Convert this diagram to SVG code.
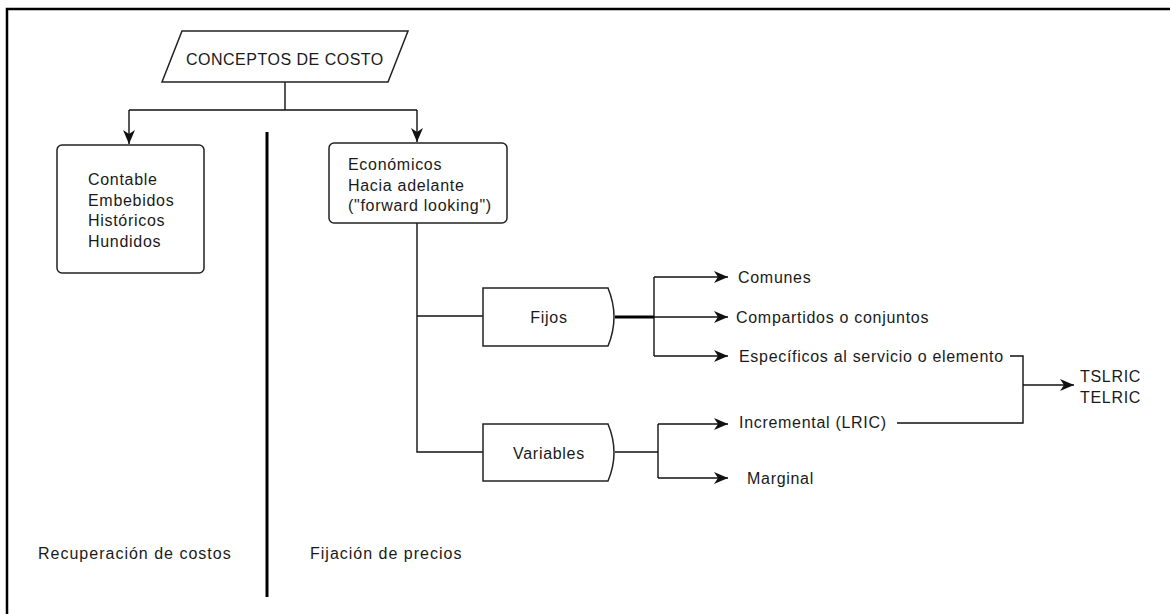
<svg xmlns="http://www.w3.org/2000/svg" width="1170" height="614" viewBox="0 0 1170 614">
<style>
text{font-family:"Liberation Sans",Arial,sans-serif;font-size:16px;fill:#1a1a1a;letter-spacing:0.7px}
.box{fill:#fff;stroke:#222;stroke-width:1.5}
.ln{fill:none;stroke:#111;stroke-width:1.4}
.ar{fill:none;stroke:#111;stroke-width:1.4;marker-end:url(#ah)}
</style>
<defs>
<marker id="ah" markerUnits="userSpaceOnUse" markerWidth="16" markerHeight="14" refX="14" refY="6" orient="auto">
<path d="M0,0 L14,6 L0,12 L4,6 z" fill="#111"/>
</marker>
</defs>
<rect x="0" y="0" width="1170" height="614" fill="#fff"/>
<path d="M7,614 V9 H1170" fill="none" stroke="#000" stroke-width="2.5"/>
<line x1="267" y1="132" x2="267" y2="597" stroke="#000" stroke-width="3"/>
<g id="connectors">
<path class="ln" d="M285,82 V110 M129,110 H417"/>
<path class="ar" d="M129,110 V144"/>
<path class="ar" d="M417,110 V142"/>
<path class="ln" d="M417,223 V452 H483 M417,316 H483"/>
<path d="M615,317 H654" fill="none" stroke="#000" stroke-width="3"/>
<path class="ln" d="M654,277 V356"/>
<path class="ar" d="M654,277 H728"/>
<path class="ar" d="M654,317 H728"/>
<path class="ar" d="M654,356 H728"/>
<path class="ln" d="M615,452 H658 M658,424 V478"/>
<path class="ar" d="M658,424 H728"/>
<path class="ar" d="M658,478 H728"/>
<path class="ln" d="M1010,356 H1023 V423 H897"/>
<path class="ar" d="M1023,385 H1074"/>
</g>
<g id="n-conceptos">
<polygon class="box" points="182,31 408,31 388,82 162,82"/>
<text x="186" y="65" style="letter-spacing:0.5px">CONCEPTOS DE COSTO</text>
</g>
<g id="n-contable">
<rect class="box" x="57" y="145" width="147" height="128" rx="5"/>
<text x="88" y="185">Contable</text>
<text x="88" y="205.5">Embebidos</text>
<text x="88" y="226">Históricos</text>
<text x="88" y="246.5">Hundidos</text>
</g>
<g id="n-economicos">
<rect class="box" x="329" y="143" width="178" height="80" rx="5"/>
<text x="348" y="170">Económicos</text>
<text x="348" y="190.5">Hacia adelante</text>
<text x="348" y="211">("forward looking")</text>
</g>
<g id="n-fijos">
<path class="box" d="M483,288 H608 Q620,317 608,346 H483 Z"/>
<text x="549" y="323" text-anchor="middle">Fijos</text>
</g>
<g id="n-variables">
<path class="box" d="M483,424 H608 Q620,452.5 608,481 H483 Z"/>
<text x="549" y="459" text-anchor="middle">Variables</text>
</g>
<g id="n-comunes"><text x="738" y="283">Comunes</text></g>
<g id="n-compartidos"><text x="736" y="323">Compartidos o conjuntos</text></g>
<g id="n-especificos"><text x="739" y="362">Específicos al servicio o elemento</text></g>
<g id="n-incremental"><text x="739" y="428">Incremental (LRIC)</text></g>
<g id="n-marginal"><text x="747" y="484">Marginal</text></g>
<g id="n-tslric">
<text x="1080" y="382">TSLRIC</text>
<text x="1080" y="403">TELRIC</text>
</g>
<g id="n-recuperacion"><text x="38" y="559" style="letter-spacing:1px">Recuperación de costos</text></g>
<g id="n-fijacion"><text x="310" y="559" style="letter-spacing:1px">Fijación de precios</text></g>
</svg>
